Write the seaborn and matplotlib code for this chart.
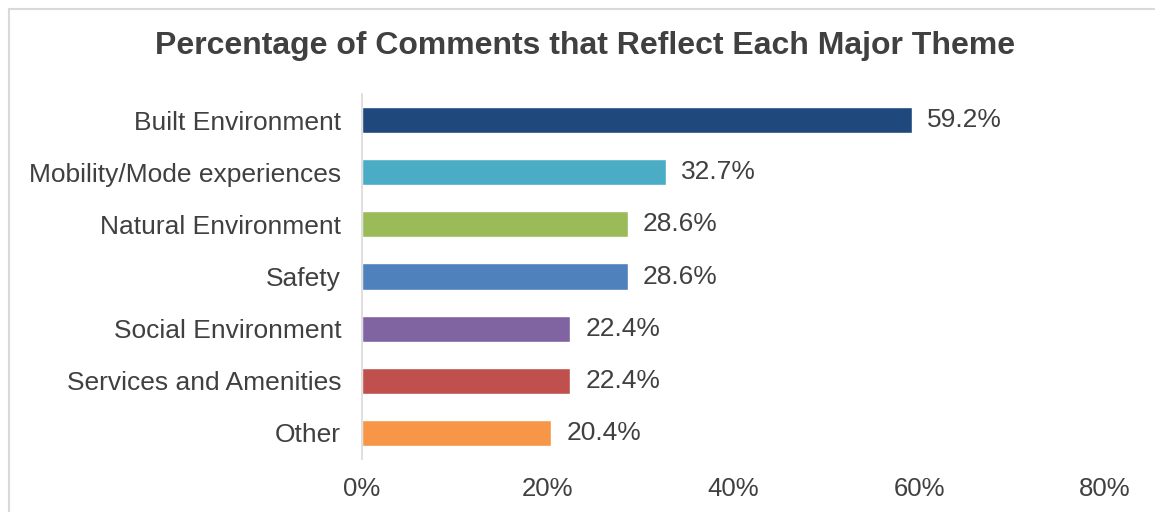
import matplotlib
matplotlib.use("Agg")
import matplotlib.pyplot as plt
import seaborn as sns
import pandas as pd
from matplotlib.patches import Rectangle

categories = ["Built Environment", "Mobility/Mode experiences", "Natural Environment",
              "Safety", "Social Environment", "Services and Amenities", "Other"]
values = [59.2, 32.7, 28.6, 28.6, 22.4, 22.4, 20.4]
colors = ["#1F497D", "#4BACC6", "#9BBB59", "#4F81BD", "#8064A2", "#C0504D", "#F79646"]
x_ticks = [0, 20, 40, 60, 80]
x_tick_labels = ["0%", "20%", "40%", "60%", "80%"]
title = "Percentage of Comments that Reflect Each Major Theme"

sns.set_theme(style="white")
plt.rcParams["font.family"] = ["Liberation Sans", "DejaVu Sans"]
text_color = "#404040"

df = pd.DataFrame({"cat": categories, "val": values})

fig = plt.figure(figsize=(11.55, 5.12), dpi=100)
ax = fig.add_axes([362/1155, 1 - 459/512, (1105 - 362)/1155, (459 - 94)/512])

sns.barplot(data=df, x="val", y="cat", hue="cat", palette=colors, order=categories,
            hue_order=categories, width=0.5, legend=False, ax=ax, saturation=1)

ax.set_xlim(0, 80)
ax.set_xticks(x_ticks)
ax.set_xticklabels(x_tick_labels)
ax.set_xlabel("")
ax.set_ylabel("")
for s in ["top", "right", "bottom"]:
    ax.spines[s].set_visible(False)
ax.spines["left"].set_color("#D9D9D9")
ax.spines["left"].set_linewidth(1.2)
ax.tick_params(axis="y", length=0, pad=15, labelsize=19, labelcolor=text_color)
ax.tick_params(axis="x", length=0, pad=13, labelsize=18.5, labelcolor=text_color)

for cont in ax.containers:
    ax.bar_label(cont, labels=[f"{v:.1f}%" for v in cont.datavalues], padding=11,
                 fontsize=19, color=text_color)

fig.text(585/1155, 1 - 46/512, title, ha="center", va="center", fontsize=23,
         fontweight="bold", color=text_color)

fig.patches.append(Rectangle((9/1155, -0.1), 1.2, 1 - 9/512 + 0.1, transform=fig.transFigure,
                             fill=False, edgecolor="#D9D9D9", linewidth=1.5, figure=fig))

fig.savefig("out.png", dpi=100)
